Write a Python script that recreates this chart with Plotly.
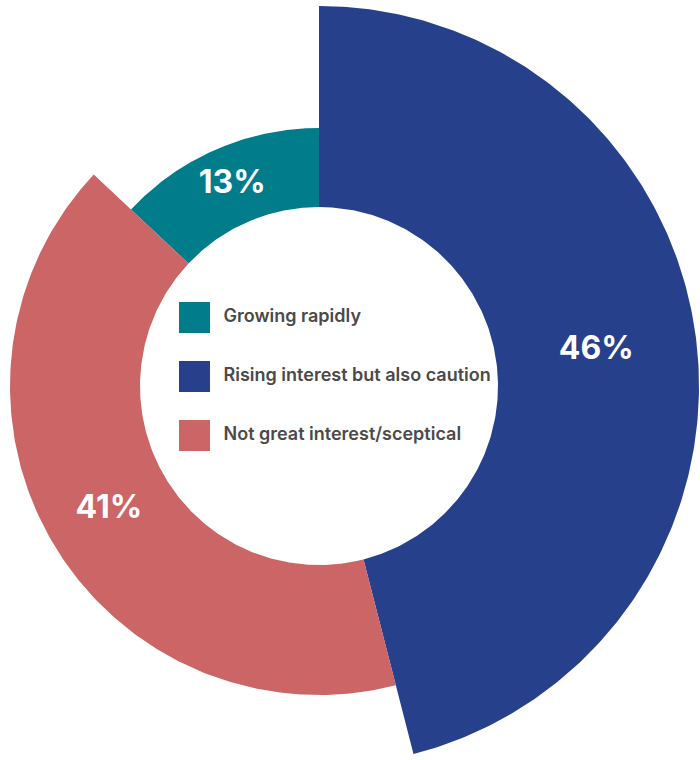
import numpy as np
import plotly.graph_objects as go

# Survey shares (legend order)
categories = ["Growing rapidly", "Rising interest but also caution", "Not great interest/sceptical"]
shares = [13, 46, 41]

# Styling: colours and ring radii (pixel-like data units)
colors = ["#017C8B", "#27408B", "#CC6566"]
outer_radius = [258, 380, 309]
inner_radius = 179
label_font = dict(family="Inter", size=32, color="white", weight=700)
legend_font = dict(family="Inter", size=18, color="#4a4a4a", weight=600)

total = float(sum(shares))
# first slice sits just before 12 o'clock so the second one starts at the top
start = -shares[0] / total * 360.0

fig = go.Figure()


def wedge(a0, a1, r_in, r_out, n=240):
    t = np.radians(np.linspace(a0, a1, n))
    xo, yo = r_out * np.sin(t), r_out * np.cos(t)
    xi, yi = r_in * np.sin(t[::-1]), r_in * np.cos(t[::-1])
    x = np.concatenate([xo, xi, xo[:1]])
    y = np.concatenate([yo, yi, yo[:1]])
    return x, y


angle = start
mids = []
for cat, val, col, r_out in zip(categories, shares, colors, outer_radius):
    span = val / total * 360.0
    x, y = wedge(angle, angle + span, inner_radius, r_out)
    fig.add_trace(go.Scatter(
        x=x, y=y, mode="lines", fill="toself", fillcolor=col,
        line=dict(width=0, color=col), name=cat, hoverinfo="name",
        showlegend=False,
    ))
    mids.append((angle + span / 2.0, (inner_radius + r_out) / 2.0))
    angle += span

# percentage labels at the middle of each ring segment
lx = [r * np.sin(np.radians(a)) for a, r in mids]
ly = [r * np.cos(np.radians(a)) for a, r in mids]
fig.add_trace(go.Scatter(
    x=lx, y=ly, mode="text", text=[f"{v}%" for v in shares],
    textfont=label_font, hoverinfo="skip", showlegend=False,
))

# legend drawn inside the hole
leg_x = -124.5
leg_y = [68.5 - 59 * i for i in range(len(categories))]
fig.add_trace(go.Scatter(
    x=[leg_x] * len(categories), y=leg_y, mode="markers",
    marker=dict(symbol="square", size=31, color=colors, line=dict(width=0)),
    hoverinfo="skip", showlegend=False,
))
fig.add_trace(go.Scatter(
    x=[leg_x + 29] * len(categories), y=leg_y, mode="text",
    text=categories, textposition="middle right", textfont=legend_font,
    hoverinfo="skip", showlegend=False,
))

fig.update_xaxes(range=[-319, 381], visible=False, fixedrange=True)
fig.update_yaxes(range=[-374, 386], visible=False, fixedrange=True)
fig.update_layout(
    width=700, height=760,
    margin=dict(l=0, r=0, t=0, b=0),
    paper_bgcolor="white", plot_bgcolor="white",
    showlegend=False,
)

fig.write_html("out.html")
